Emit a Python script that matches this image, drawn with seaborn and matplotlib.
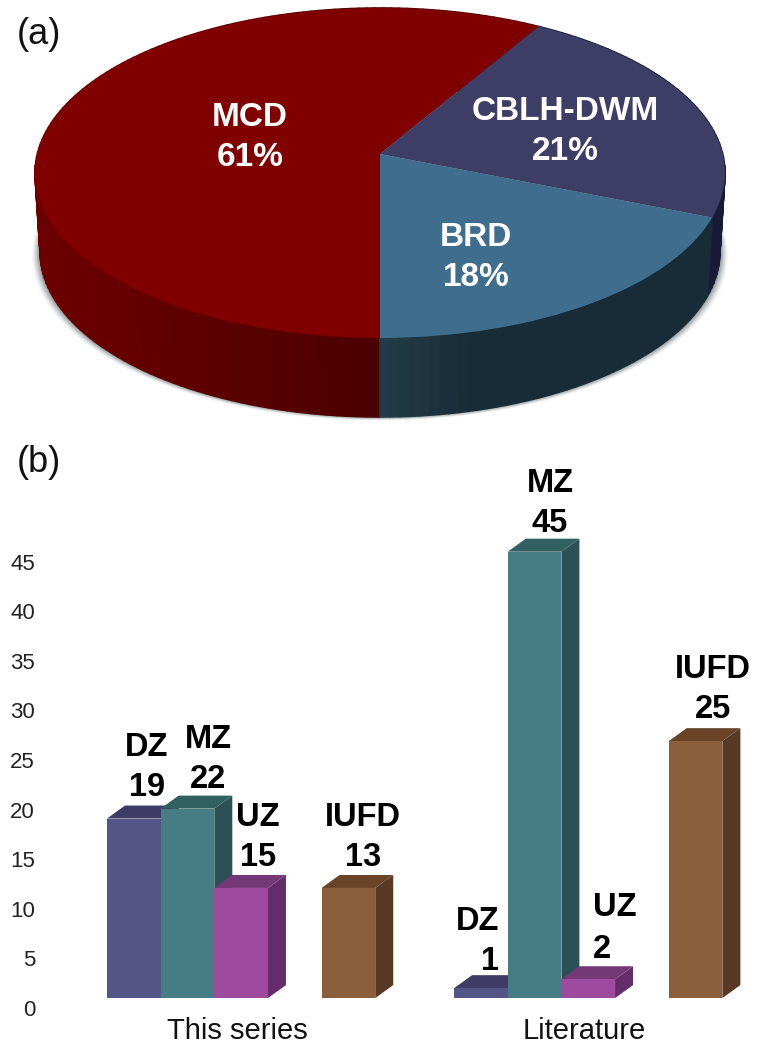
import numpy as np
import pandas as pd
import matplotlib
matplotlib.use("Agg")
import matplotlib.pyplot as plt
import seaborn as sns
from matplotlib.collections import PolyCollection
from matplotlib.colors import to_rgb
from matplotlib.patches import Polygon
from matplotlib.transforms import Transform

# Panel (a): slice shares as drawn, the printed percentages are kept apart
pie_names = ["MCD", "CBLH-DWM", "BRD"]
pie_shares = [58.5, 22.6, 18.9]
pie_percent = ["61%", "21%", "18%"]

# Panel (b): bar heights as drawn, the printed counts are kept apart
groups = ["This series", "Literature"]
zygosity = ["DZ", "MZ", "UZ", "IUFD"]
series_heights = [18.1, 19.1, 11.1, 11.1]
series_counts = ["19", "22", "15", "13"]
literature_heights = [1.0, 45.0, 1.9, 25.9]
literature_counts = ["1", "45", "2", "25"]
y_ticks = [0, 5, 10, 15, 20, 25, 30, 35, 40, 45]

W, H = 758, 1050
sns.set_theme(style="white")
plt.rcParams["font.family"] = ["Liberation Sans", "DejaVu Sans"]

fig = plt.figure(figsize=(W / 100, H / 100), dpi=100, facecolor="white")


def pixel_axes(left, top, right, bottom):
    return fig.add_axes([left / W, 1 - bottom / H, (right - left) / W, (bottom - top) / H])


# ---- bars ----
ax = pixel_axes(40, 460, W, 1016)
slot = {"DZ": 0, "MZ": 1, "UZ": 2, "IUFD": 4}
group_start = {"This series": 0, "Literature": 6.47}
bars = pd.DataFrame({
    "group": np.repeat(groups, len(zygosity)),
    "zygosity": zygosity * 2,
    "height": series_heights + literature_heights,
})
bars["slot"] = bars["group"].map(group_start) + bars["zygosity"].map(slot)

front = {"DZ": "#555487", "MZ": "#467d85", "UZ": "#9e4b9f", "IUFD": "#8a5e3a"}
top_face = {"DZ": "#3e3c65", "MZ": "#30605f", "UZ": "#753877", "IUFD": "#694429"}
side_face = {"DZ": "#3e3c65", "MZ": "#2b5055", "UZ": "#642c68", "IUFD": "#573925"}

sns.barplot(data=bars, x="slot", y="height", hue="zygosity", palette=front,
            native_scale=True, dodge=False, width=1, bottom=1, legend=False,
            saturation=1, ax=ax)

x_per_px = 1 / 53.65
y_per_px = 1 / 9.92
ax.set_xlim(-0.5 - 67 * x_per_px, -0.5 + 651 * x_per_px)
ax.set_ylim(-8 * y_per_px, 548 * y_per_px)

# front faces come from seaborn, the 3d faces follow from each front face
depth_x, depth_y = 18 * x_per_px, 13 * y_per_px
rects = sorted([p for p in ax.patches if p.get_height() > 0], key=lambda p: p.get_x())
for i, rect in enumerate(rects):
    name = bars.sort_values("slot")["zygosity"].iloc[i]
    x0, x1 = rect.get_x(), rect.get_x() + rect.get_width()
    y0, y1 = rect.get_y(), rect.get_y() + rect.get_height()
    rect.set_zorder(3 + i * 3)
    rect.set_linewidth(0)
    ax.add_patch(Polygon([(x1, y0), (x1 + depth_x, y0 + depth_y), (x1 + depth_x, y1 + depth_y), (x1, y1)],
                         facecolor=side_face[name], edgecolor="none", zorder=2 + i * 3))
    ax.add_patch(Polygon([(x0, y1), (x0 + depth_x, y1 + depth_y), (x1 + depth_x, y1 + depth_y), (x1, y1)],
                         facecolor=top_face[name], edgecolor="none", zorder=2 + i * 3))

sns.despine(ax=ax, left=True, bottom=True)
ax.set_xlabel("")
ax.set_ylabel("")
ax.set_yticks(y_ticks)
ax.set_yticklabels([str(t) for t in y_ticks], fontsize=16, color="#222222")
ax.set_xticks([group_start[g] + 1.93 for g in groups])
ax.set_xticklabels(groups, fontsize=21, color="#111111")
ax.tick_params(axis="y", left=False, length=0, pad=3.6)
ax.tick_params(axis="x", bottom=False, length=0, pad=1)
ax.patch.set_alpha(0)

# ---- pie, on a pixel sized overlay ----
over = fig.add_axes([0, 0, 1, 1])
pie_colors = ["#800000", "#3e3d66", "#3f6d8d"]
wall_colors = [("#6c0000", "#4b0000"), ("#1a1a38", "#1a1a38"), ("#233b48", "#182c38")]
CX, CY, A, B, K = 380, 154, 342.7, 162.8, 0.115


class Tilt(Transform):
    input_dims = output_dims = 2
    is_affine = False

    def transform_non_affine(self, values):
        u, v = values[:, 0], values[:, 1]
        w = 1 + K * v
        return np.column_stack([CX + A * u / w, CY - B * v / w])


tilt = Tilt()
wedges, _ = over.pie(pie_shares, colors=pie_colors, startangle=270, counterclock=False,
                     wedgeprops={"linewidth": 0})
over.set_aspect("auto")
over.set_xlim(0, W)
over.set_ylim(H, 0)
over.set_axis_off()
for wedge in wedges:
    wedge.set_transform(tilt + over.transData)
    wedge.set_zorder(5)
    wedge.set_clip_on(False)


def rim(angles):
    rad = np.deg2rad(angles)
    return tilt.transform_non_affine(np.column_stack([np.cos(rad), np.sin(rad)]))


# side wall built from the same wedge angles
WALL = 79
for k, (wedge, (c0, c1)) in enumerate(zip(wedges, wall_colors)):
    lo, hi = sorted([wedge.theta1, wedge.theta2])
    angles = np.arange(lo, hi + 1, 1.5)
    angles = np.append(angles[angles < hi], hi)
    upper = rim(angles)
    lower = (upper - [CX, 0]) * [0.985, 1] + [CX, WALL]
    quads, cols = [], []
    c0, c1 = np.array(to_rgb(c0)), np.array(to_rgb(c1))
    for j in range(len(angles) - 1):
        quads.append([upper[j], upper[j + 1], lower[j + 1], lower[j]])
        t = abs(upper[j][0] - CX) / 345
        if k == 0:
            cols.append(c1 + (c0 - c1) * t)
        else:
            cols.append(c0 + (c1 - c0) * min(1, t * 4))
    over.add_collection(PolyCollection(quads, facecolors=cols, edgecolors=cols, linewidths=1.2, zorder=3))

# soft shadow under the wall
full = rim(np.arange(0, 361, 2.0))
for grow, alpha in zip([8, 6.5, 5, 3.5, 2], [0.06, 0.10, 0.14, 0.18, 0.22]):
    pts = (full - [CX, CY]) * [0.985, 1] + [CX, CY + WALL]
    pts = (pts - [CX, 0]) * [1 + grow / 340, 1] + [CX, grow * 0.45]
    over.add_patch(Polygon(pts, facecolor="#4a5a60", edgecolor="none", alpha=alpha, zorder=2))

# ---- text, placed by hand as in the source figure ----
pie_text_xy = [(250, 117, 157), (565, 111, 152), (476, 237, 277)]
for name, pct, (x, y0, y1) in zip(pie_names, pie_percent, pie_text_xy):
    over.text(x, y0, name, color="white", fontsize=24, fontweight="bold", ha="center", va="center", zorder=8)
    over.text(x, y1, pct, color="white", fontsize=24, fontweight="bold", ha="center", va="center", zorder=8)

name_xy = [(147, 748), (208, 739), (258, 818), (363, 818), (478, 921), (550, 483), (615, 908), (713, 670)]
count_xy = [(147, 788), (208, 780), (258, 858), (363, 858), (490, 961), (550, 523), (602, 950), (713, 710)]
labels = zygosity + zygosity
counts = series_counts + literature_counts
for lab, cnt, p, q in zip(labels, counts, name_xy, count_xy):
    over.text(p[0], p[1], lab, color="black", fontsize=23.5, fontweight="bold", ha="center", va="center", zorder=8)
    over.text(q[0], q[1], cnt, color="black", fontsize=23.5, fontweight="bold", ha="center", va="center", zorder=8)

over.text(39, 35, "(a)", color="#111111", fontsize=26, ha="center", va="center")
over.text(39, 463, "(b)", color="#111111", fontsize=26, ha="center", va="center")

fig.savefig("out.png", dpi=100)
